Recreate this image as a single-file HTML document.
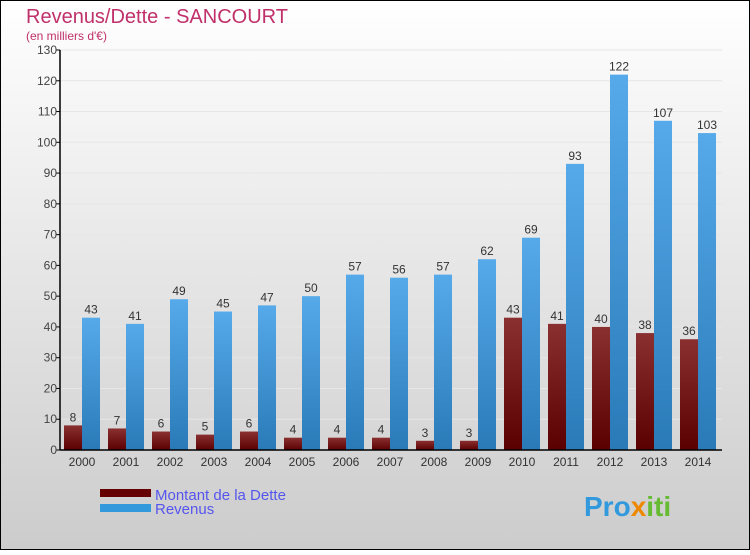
<!DOCTYPE html>
<html><head><meta charset="utf-8"><style>
html,body{margin:0;padding:0}
body{width:750px;height:550px;overflow:hidden;font-family:"Liberation Sans",sans-serif}
</style></head><body>
<svg id="chart" width="750" height="550" xmlns="http://www.w3.org/2000/svg">
<defs>
<linearGradient id="bg" x1="0" y1="0" x2="0" y2="1"><stop offset="0" stop-color="#ffffff"/><stop offset="1" stop-color="#cccccc"/></linearGradient>
<linearGradient id="gd" x1="0" y1="0" x2="0" y2="1"><stop offset="0" stop-color="#8a3030"/><stop offset="1" stop-color="#5a0000"/></linearGradient>
<linearGradient id="gr" x1="0" y1="0" x2="0" y2="1"><stop offset="0" stop-color="#56aaea"/><stop offset="1" stop-color="#2a7ab8"/></linearGradient>
</defs>
<rect x="0.5" y="0.5" width="749" height="549" fill="url(#bg)" stroke="#000"/>
<text x="26" y="23" font-size="20" fill="#c0306a">Revenus/Dette - SANCOURT</text>
<text x="26" y="40" font-size="12" fill="#c0306a">(en milliers d'€)</text>
<g id="grid"></g><g id="bars"></g><g id="axes"></g>
<rect x="100" y="489" width="51" height="8" fill="#660000"/>
<rect x="100" y="504" width="51" height="8" fill="#3399dd"/>
<text x="155" y="500" font-size="15" fill="#5555ee">Montant de la Dette</text>
<text x="155" y="514" font-size="15" fill="#5555ee">Revenus</text>
<text x="584" y="516" font-size="28" font-weight="bold" fill="#3399dd">Pro<tspan fill="#ee8800">x</tspan><tspan fill="#66bb33">iti</tspan></text>
</svg>
<script>
const years=["2000","2001","2002","2003","2004","2005","2006","2007","2008","2009","2010","2011","2012","2013","2014"];
const debt=[8,7,6,5,6,4,4,4,3,3,43,41,40,38,36];
const revenue=[43,41,49,45,47,50,57,56,57,62,69,93,122,107,103];
const yTicks=[0,10,20,30,40,50,60,70,80,90,100,110,120,130];
const NS="http://www.w3.org/2000/svg";
const x0=60,gw=44,y0=450,ppu=400/130;
const y=v=>y0-v*ppu;
function mk(tag,attrs,parent,txt){const e=document.createElementNS(NS,tag);for(const k in attrs)e.setAttribute(k,attrs[k]);if(txt!==undefined)e.textContent=txt;document.getElementById(parent).appendChild(e);return e;}
yTicks.forEach(t=>{
 if(t>0){const g=mk('line',{x1:x0,x2:722,y1:y(t),y2:y(t),stroke:'#e6e6e6'},'grid');
 
 }
 const tk=mk('line',{x1:x0-4,x2:x0,y1:y(t),y2:y(t),stroke:'#000'},'axes');
 
 
 const l=mk('text',{x:x0-3,y:y(t)+4,'font-size':12,'text-anchor':'end',fill:'#444'},'axes',String(t));
 
 
});
years.forEach((yr,i)=>{
 const gx=x0+i*gw;
 const d=mk('rect',{x:gx+4,y:y(debt[i]),width:18,height:debt[i]*ppu,fill:'url(#gd)'},'bars');
 
 
 const r=mk('rect',{x:gx+22,y:y(revenue[i]),width:18,height:revenue[i]*ppu,fill:'url(#gr)'},'bars');
 
 
 const dl=mk('text',{x:gx+13,y:y(debt[i])-4,'font-size':12,'text-anchor':'middle',fill:'#333'},'bars',String(debt[i]));
 
 
 const rl=mk('text',{x:gx+31,y:y(revenue[i])-4,'font-size':12,'text-anchor':'middle',fill:'#333'},'bars',String(revenue[i]));
 
 
 const xl=mk('text',{x:gx+22,y:466,'font-size':12,'text-anchor':'middle',fill:'#333'},'axes',yr);
 
 
});
const ya=mk('line',{x1:x0,x2:x0,y1:y(130),y2:y0,stroke:'#000','stroke-width':1.5},'axes');


const xa=mk('line',{x1:x0,x2:722,y1:y0,y2:y0,stroke:'#000','stroke-width':1.5},'axes');


</script>
</body></html>
